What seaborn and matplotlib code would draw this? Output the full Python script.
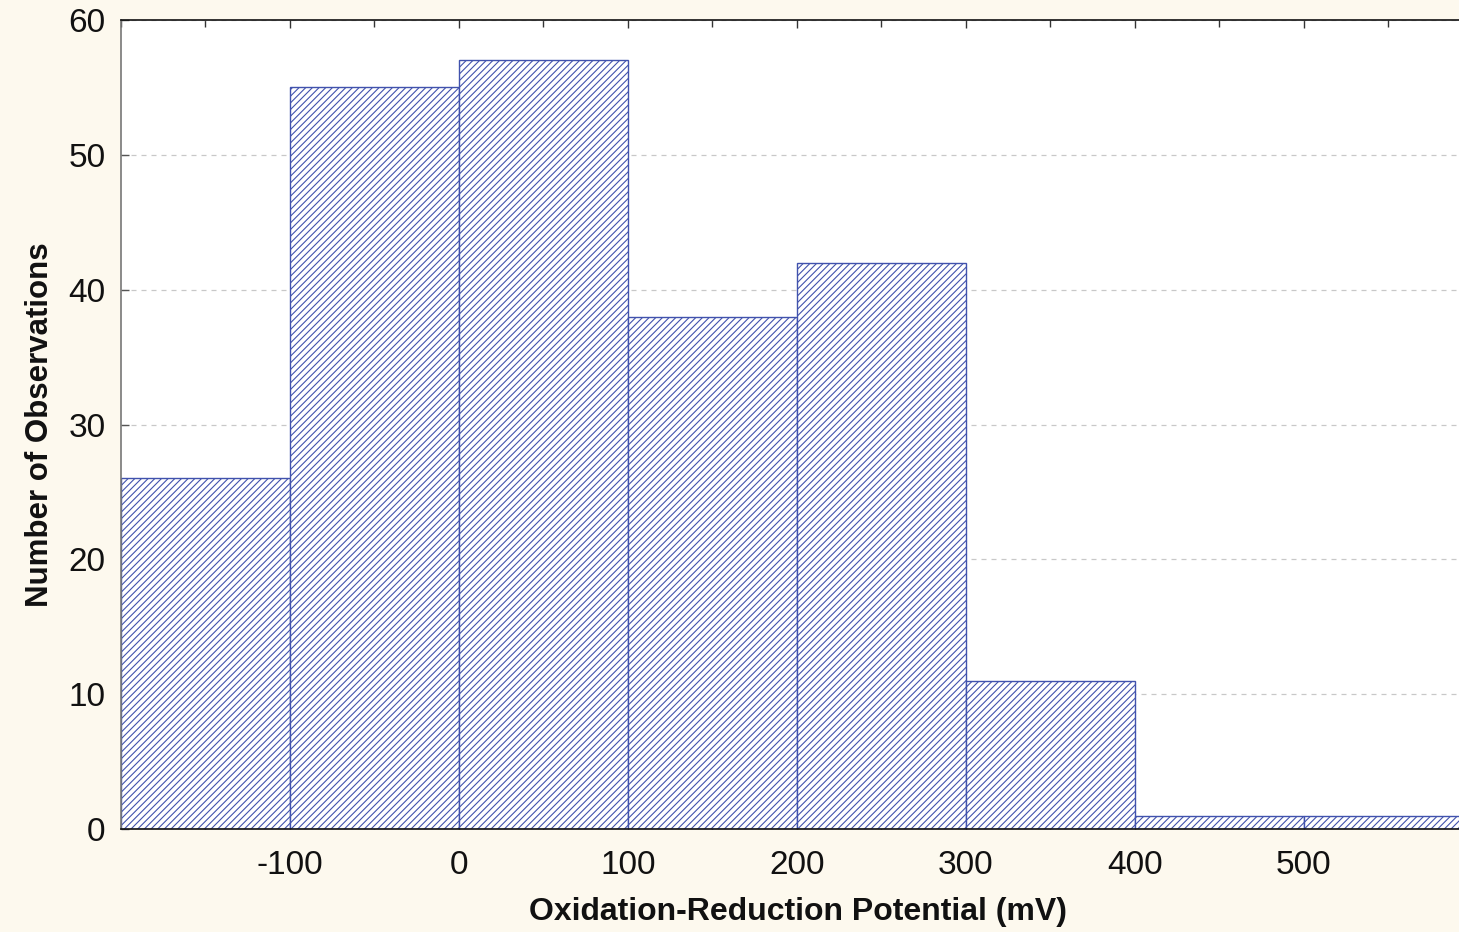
import numpy as np
import pandas as pd
import matplotlib
matplotlib.use("Agg")
import matplotlib.pyplot as plt
import seaborn as sns
from matplotlib.ticker import MultipleLocator

# Histogram of oxidation-reduction potential readings
bin_edges = [-200, -100, 0, 100, 200, 300, 400, 500, 600]
counts = [26, 55, 57, 38, 42, 11, 1, 1]
x_ticks = [-100, 0, 100, 200, 300, 400, 500]
x_tick_labels = ["-100", "0", "100", "200", "300", "400", "500"]
y_ticks = [0, 10, 20, 30, 40, 50, 60]

bin_centers = [(a + b) / 2 for a, b in zip(bin_edges[:-1], bin_edges[1:])]
df = pd.DataFrame({"orp": bin_centers, "n": counts})

sns.set_theme(style="white")
plt.rcParams["font.family"] = ["Liberation Sans", "DejaVu Sans"]
plt.rcParams["hatch.linewidth"] = 0.8

bg = "#fdf9ee"
blue = "#4152ad"

fig = plt.figure(figsize=(14.59, 9.32), dpi=100, facecolor=bg)
ax = fig.add_axes([121 / 1459, 1 - 829 / 932, (1459 - 121) / 1459, (829 - 20) / 932])
ax.set_facecolor("white")

sns.histplot(data=df, x="orp", weights="n", bins=bin_edges, ax=ax,
             stat="count", fill=True, color="white", edgecolor=blue,
             linewidth=1.0, alpha=1.0)
for p in ax.patches:
    p.set_facecolor("white")
    p.set_edgecolor(blue)
    p.set_hatch("/////")

ax.set_xlim(-200, 592)
ax.set_ylim(0, 60)
ax.set_xticks(x_ticks)
ax.set_xticklabels(x_tick_labels)
ax.set_yticks(y_ticks)
ax.xaxis.set_minor_locator(MultipleLocator(50))

ax.yaxis.grid(True, linestyle=(0, (4, 4)), color="#c8c8c8", linewidth=0.9)
ax.set_axisbelow(True)

for side in ["left", "top", "bottom"]:
    ax.spines[side].set_visible(True)
    ax.spines[side].set_color("#111111")
    ax.spines[side].set_linewidth(1.2)
ax.spines["right"].set_visible(False)
ax.spines["left"].set_color("#777777")

ax.tick_params(axis="x", which="both", direction="in", top=True, bottom=True,
               length=6, width=1.0, color="#333333", labelsize=24, pad=15,
               labelcolor="#111111")
ax.tick_params(axis="x", which="minor", length=5)
ax.tick_params(axis="y", which="major", direction="in", left=True,
               length=6, width=1.0, color="#555555", labelsize=24, pad=11,
               labelcolor="#111111")

ax.set_xlabel("Oxidation-Reduction Potential (mV)", fontsize=23, fontweight="bold",
              color="#111111")
ax.xaxis.set_label_coords(0.506, -0.084)
ax.set_ylabel("Number of Observations", fontsize=22.5, fontweight="bold",
              labelpad=10, color="#111111")

fig.savefig("out.png", dpi=100, facecolor=bg)
